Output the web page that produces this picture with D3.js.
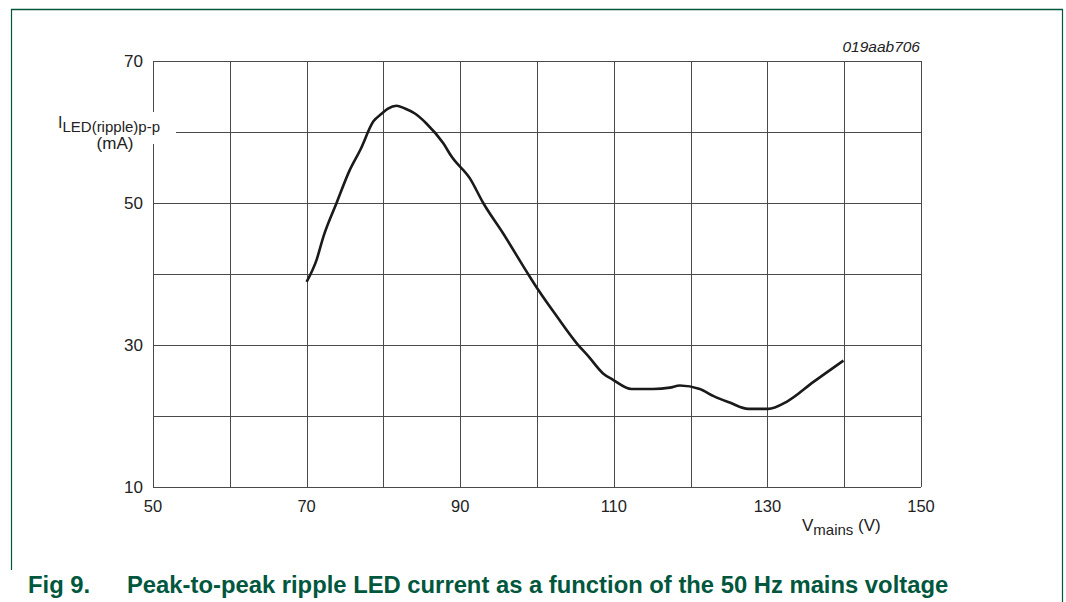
<!DOCTYPE html>
<html>
<head>
<meta charset="utf-8">
<script src="https://cdn.jsdelivr.net/npm/d3@7"></script>
<style>
  body { margin: 0; background: #fff; }
  svg { font-family: "Liberation Sans", Arial, sans-serif; }
</style>
</head>
<body>
<div id="chart"></div>
<script>
// curve: mains voltage (V) vs ripple current (mA)
var voltage = [70, 71.3, 72.2, 73.9, 75.6, 77.0, 78.7, 79.8, 80.6, 81.7, 82.8, 84.1, 85.6, 87.8, 88.9,
  91.3, 93.0, 95.6, 98.9, 100.2, 102.6, 105.2, 106.7, 108.6, 109.9, 112.3, 115.1, 117.3, 118.6,
  121.2, 123.0, 125.1, 127.5, 130.1, 132.5, 136.0, 139.9];
var current = [38.9, 42.0, 45.3, 50.0, 54.6, 57.5, 61.5, 62.6, 63.3, 63.7, 63.3, 62.6, 61.2, 58.4, 56.5,
  53.4, 50.0, 45.7, 39.9, 37.7, 34.0, 30.2, 28.4, 26.0, 25.1, 23.8, 23.8, 24.0, 24.3,
  23.8, 22.8, 21.9, 21.0, 21.0, 22.0, 24.8, 27.8];

var xGrid = d3.range(50, 151, 10);
var yGrid = d3.range(10, 71, 10);
var xTickLabels = [50, 70, 90, 110, 130, 150];
var yTickLabels = [10, 30, 50, 70];

var W = 1066, H = 602;
var green = "#00573d";
var gridColor = "#4a4a4a";

var svg = d3.select("#chart").append("svg")
  .attr("width", W)
  .attr("height", H);

var x = d3.scaleLinear().domain([50, 150]).range([153, 921]);
var y = d3.scaleLinear().domain([10, 70]).range([487, 61]);

// frame
svg.append("line").attr("x1", 11).attr("x2", 1063).attr("y1", 9.5).attr("y2", 9.5)
  .style("stroke", green).style("stroke-width", 1.5);
svg.append("line").attr("x1", 11.5).attr("x2", 11.5).attr("y1", 9).attr("y2", 570)
  .style("stroke", green).style("stroke-width", 1.2);
svg.append("line").attr("x1", 1062.5).attr("x2", 1062.5).attr("y1", 9).attr("y2", 602)
  .style("stroke", green).style("stroke-width", 1.2);

// grid
var grid = svg.append("g");
grid.selectAll(".vg").data(xGrid).enter().append("line")
  .attr("x1", d => Math.round(x(d)) + 0.5).attr("x2", d => Math.round(x(d)) + 0.5)
  .attr("y1", y(70)).attr("y2", y(10))
  .style("stroke", gridColor).style("stroke-width", 1);
grid.selectAll(".hg").data(yGrid).enter().append("line")
  .attr("x1", x(50)).attr("x2", x(150))
  .attr("y1", d => Math.round(y(d)) + 0.5).attr("y2", d => Math.round(y(d)) + 0.5)
  .style("stroke", gridColor).style("stroke-width", 1);

// tick labels
svg.selectAll(".xl").data(xTickLabels).enter().append("text")
  .attr("x", d => x(d)).attr("y", 512)
  .attr("text-anchor", "middle")
  .style("font-size", "16.5px").style("fill", "#222")
  .text(d => d);
svg.selectAll(".yl").data(yTickLabels).enter().append("text")
  .attr("x", 143).attr("y", d => y(d) + 6)
  .attr("text-anchor", "end")
  .style("font-size", "17px").style("fill", "#222")
  .text(d => d);

// curve
var line = d3.line()
  .x((d, i) => x(voltage[i]))
  .y(d => y(d))
  .curve(d3.curveMonotoneX);
svg.append("path")
  .datum(current)
  .attr("d", line)
  .style("fill", "none")
  .style("stroke", "#1a1a1a")
  .style("stroke-width", 2.6)
  .style("stroke-linejoin", "round");

// y axis title with white backing
svg.append("rect").attr("x", 56).attr("y", 112).attr("width", 120).attr("height", 32)
  .style("fill", "#fff");
var yt = svg.append("text").attr("x", 58).attr("y", 128)
  .style("font-size", "16px").style("fill", "#222");
yt.append("tspan").text("I");
yt.append("tspan").attr("dy", 4).style("font-size", "15px").text("LED(ripple)p-p");
svg.append("text").attr("x", 115).attr("y", 149).attr("text-anchor", "middle")
  .style("font-size", "17px").style("fill", "#222").text("(mA)");

// x axis title
var xt = svg.append("text").attr("x", 802).attr("y", 531)
  .style("font-size", "17px").style("fill", "#222");
xt.append("tspan").text("V");
xt.append("tspan").attr("dy", 4).style("font-size", "15px").text("mains");
xt.append("tspan").attr("dy", -4).text(" (V)");

// figure id
svg.append("text").attr("x", 920).attr("y", 52).attr("text-anchor", "end")
  .style("font-size", "15.5px").style("font-style", "italic").style("fill", "#222")
  .text("019aab706");

// caption
svg.append("text").attr("x", 28).attr("y", 593)
  .style("font-size", "23.8px").style("font-weight", "bold").style("fill", green)
  .text("Fig 9.");
svg.append("text").attr("x", 127).attr("y", 593)
  .style("font-size", "23.8px").style("font-weight", "bold").style("fill", green)
  .text("Peak-to-peak ripple LED current as a function of the 50 Hz mains voltage");
</script>
</body>
</html>
